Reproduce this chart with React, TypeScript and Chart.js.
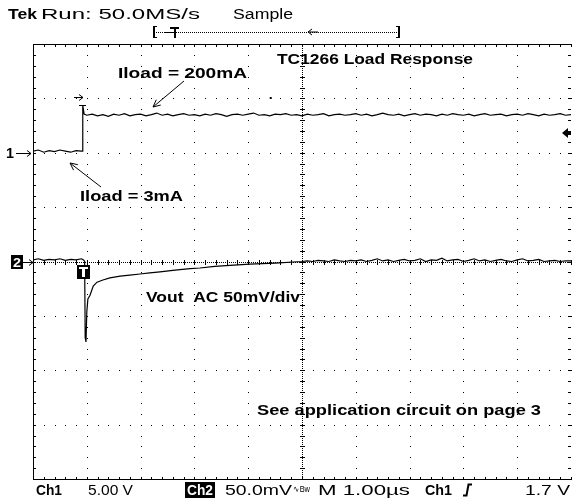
import React, { useEffect, useRef } from "react";
import { Chart, registerables } from "chart.js";

Chart.register(...registerables);

// time axis in divisions (1 div = 1.00 µs), vertical in divisions
const ch1Time = [
  0, 0.1, 0.2, 0.3, 0.4, 0.5, 0.6, 0.7, 0.8, 0.9, 0.92, 0.925, 0.95,
  1.0, 1.1, 1.2, 1.3, 1.4, 1.5, 1.6, 1.7, 1.8, 1.9, 2.0, 2.1, 2.2, 2.3, 2.4, 2.5, 2.6, 2.7, 2.8, 2.9,
  3.0, 3.1, 3.2, 3.3, 3.4, 3.5, 3.6, 3.7, 3.8, 3.9, 4.0, 4.1, 4.2, 4.3, 4.4, 4.5, 4.6, 4.7, 4.8, 4.9,
  5.0, 5.1, 5.2, 5.3, 5.4, 5.5, 5.6, 5.7, 5.8, 5.9, 6.0, 6.1, 6.2, 6.3, 6.4, 6.5, 6.6, 6.7, 6.8, 6.9,
  7.0, 7.1, 7.2, 7.3, 7.4, 7.5, 7.6, 7.7, 7.8, 7.9, 8.0, 8.1, 8.2, 8.3, 8.4, 8.5, 8.6, 8.7, 8.8, 8.9,
  9.0, 9.1, 9.2, 9.3, 9.4, 9.5, 9.6, 9.7, 9.8, 9.9, 10.0,
];
const ch1Values = [
  2.03, 2.05, 2.01, 2.04, 2.02, 2.05, 2.03, 2.01, 2.04, 2.03, 2.03, 2.87, 2.71,
  2.69, 2.71, 2.68, 2.70, 2.67, 2.71, 2.69, 2.72, 2.68, 2.70,
  2.71, 2.68, 2.70, 2.73, 2.69, 2.71, 2.68, 2.70, 2.72, 2.69,
  2.70, 2.68, 2.71, 2.69, 2.72, 2.70, 2.67, 2.70, 2.71, 2.69,
  2.71, 2.73, 2.69, 2.70, 2.68, 2.71, 2.70, 2.72, 2.69, 2.70,
  2.68, 2.71, 2.69, 2.70, 2.72, 2.68, 2.70, 2.71, 2.69, 2.70,
  2.72, 2.69, 2.71, 2.68, 2.70, 2.73, 2.70, 2.69, 2.71, 2.68,
  2.70, 2.72, 2.69, 2.71, 2.70, 2.68, 2.71, 2.69, 2.72, 2.70,
  2.69, 2.71, 2.68, 2.70, 2.72, 2.69, 2.70, 2.71, 2.68, 2.70,
  2.71, 2.69, 2.72, 2.70, 2.68, 2.71, 2.69, 2.70, 2.72, 2.69,
  2.70,
];

const ch2Time = [
  0, 0.1, 0.2, 0.3, 0.4, 0.5, 0.6, 0.7, 0.8, 0.9, 0.94, 0.96, 0.97, 0.985,
  1.0, 1.02, 1.06, 1.12, 1.19, 1.30, 1.43, 1.62, 1.80, 1.99, 2.17, 2.36, 2.64, 2.92,
  3.10, 3.38, 3.66, 4.03, 4.50,
  5.0, 5.1, 5.2, 5.3, 5.4, 5.5, 5.6, 5.7, 5.8, 5.9, 6.0, 6.1, 6.2, 6.3, 6.4, 6.5, 6.6, 6.7, 6.8, 6.9,
  7.0, 7.1, 7.2, 7.3, 7.4, 7.5, 7.6, 7.7, 7.8, 7.9, 8.0, 8.1, 8.2, 8.3, 8.4, 8.5, 8.6, 8.7, 8.8, 8.9,
  9.0, 9.1, 9.2, 9.3, 9.4, 9.5, 9.6, 9.7, 9.8, 9.9, 10.0,
];
const ch2Values = [
  0.03, 0.05, 0.02, 0.04, 0.03, 0.05, 0.02, 0.04, 0.03, 0.05, 0.03, 0.0, -1.40, -1.48,
  -0.93, -0.69, -0.62, -0.45, -0.38, -0.34, -0.30, -0.27, -0.25, -0.23, -0.21, -0.19, -0.16, -0.13,
  -0.12, -0.09, -0.07, -0.05, -0.03,
  0.0, 0.01, 0.0, 0.02, 0.01, 0.0, 0.03, 0.01, 0.0, 0.02,
  0.01, 0.03, 0.0, 0.02, 0.05, 0.01, 0.03, 0.0, 0.02, 0.04,
  0.01, 0.02, 0.05, 0.0, 0.03, 0.02, 0.06, 0.01, 0.03, 0.04,
  0.0, 0.02, 0.05, 0.01, 0.03, 0.0, 0.02, 0.04, 0.01, 0.0,
  0.03, 0.05, 0.01, 0.02, 0.04, 0.0, 0.01, 0.02, 0.0, 0.01,
  0.01,
];

const TRIGGER_TIME = 0.92;
const CH1_GROUND = 2;
const CH2_GROUND = 0;

const headerBrand = "Tek";
const headerRun = "Run: 50.0MS/s";
const headerMode = "Sample";
const titleText = "TC1266 Load Response";
const labelHigh = "Iload = 200mA";
const labelLow = "Iload = 3mA";
const labelVout = "Vout  AC 50mV/div";
const labelNote = "See application circuit on page 3";
const footCh1 = "Ch1";
const footCh1Scale = "5.00 V";
const footCh2 = "Ch2";
const footCh2Scale = "50.0mV";
const footBw = "\u223FBw";
const footTime = "M 1.00\u00B5s";
const footTrigSrc = "Ch1";
const footTrigLevel = "1.7 V";

const FONT = '"Liberation Sans", Arial, sans-serif';

function fitText(ctx: CanvasRenderingContext2D, text: string, x: number, y: number, w: number, font: string) {
  ctx.save();
  ctx.font = font;
  const m = ctx.measureText(text).width;
  ctx.translate(x, y);
  ctx.scale(w / m, 1);
  ctx.fillText(text, 0, 0);
  ctx.restore();
}

function arrowLine(ctx: CanvasRenderingContext2D, x1: number, y1: number, x2: number, y2: number) {
  ctx.beginPath();
  ctx.moveTo(x1, y1);
  ctx.lineTo(x2, y2);
  const a = Math.atan2(y2 - y1, x2 - x1);
  const L = 8;
  ctx.moveTo(x2, y2);
  ctx.lineTo(x2 - L * Math.cos(a - 0.45), y2 - L * Math.sin(a - 0.45));
  ctx.moveTo(x2, y2);
  ctx.lineTo(x2 - L * Math.cos(a + 0.45), y2 - L * Math.sin(a + 0.45));
  ctx.stroke();
}

const scopePlugin = {
  id: "scope",
  beforeDatasetsDraw(chart: any) {
    const ctx: CanvasRenderingContext2D = chart.ctx;
    const xs = chart.scales.x;
    const ys = chart.scales.y;
    const sx = (v: number) => Math.round(xs.getPixelForValue(v));
    const sy = (v: number) => Math.round(ys.getPixelForValue(v));
    const { left, right, top, bottom } = chart.chartArea;
    ctx.save();
    ctx.fillStyle = "#000";
    // dotted graticule
    for (let i = 1; i <= 10; i++) {
      if (i === 5) continue;
      const px = i === 10 ? Math.round(right) - 1 : sx(i);
      for (let j = 0; j <= 40; j++) ctx.fillRect(px, sy(-4 + j * 0.2), 1, 1);
    }
    for (let k = -3; k <= 3; k++) {
      if (k === 0) continue;
      const py = sy(k);
      for (let j = 0; j <= 50; j++) ctx.fillRect(sx(j * 0.2), py, 1, 1);
    }
    // center cross with minor ticks
    const cx = sx(5);
    const cy = sy(0);
    for (let y = Math.round(top); y < bottom; y += 2) ctx.fillRect(cx, y, 1, 1);
    for (let x = Math.round(left); x < right; x += 2) ctx.fillRect(x, cy, 1, 1);
    for (let j = 0; j <= 40; j++) ctx.fillRect(cx - 2, sy(-4 + j * 0.2), 5, 1);
    for (let j = 0; j <= 50; j++) ctx.fillRect(sx(j * 0.2), cy - 2, 1, 5);
    // border
    const L = Math.round(left);
    const T = Math.round(top);
    const B = Math.round(bottom);
    const R = Math.round(right);
    ctx.fillRect(L, T, R - L, 1);
    ctx.fillRect(L, B, R - L, 1);
    ctx.fillRect(L, T, 1, B - T + 1);
    for (let j = 0; j <= 50; j++) {
      const px = sx(j * 0.2);
      ctx.fillRect(px, T, 1, 3);
      ctx.fillRect(px, B - 2, 1, 3);
    }
    for (let j = 0; j <= 40; j++) {
      const py = sy(-4 + j * 0.2);
      ctx.fillRect(L, py, 3, 1);
      ctx.fillRect(R - 3, py, 3, 1);
    }
    ctx.restore();
  },
  afterDatasetsDraw(chart: any) {
    const ctx: CanvasRenderingContext2D = chart.ctx;
    const xs = chart.scales.x;
    const ys = chart.scales.y;
    const sx = (v: number) => Math.round(xs.getPixelForValue(v));
    const sy = (v: number) => Math.round(ys.getPixelForValue(v));
    const { left, right, bottom } = chart.chartArea;
    ctx.save();
    ctx.fillStyle = "#000";
    ctx.strokeStyle = "#000";
    ctx.lineWidth = 1;
    ctx.textBaseline = "alphabetic";

    // header
    fitText(ctx, headerBrand, 8, 19, 29, `bold 14px ${FONT}`);
    fitText(ctx, headerRun, 41, 19, 159, `14px ${FONT}`);
    fitText(ctx, headerMode, 233, 19, 60, `14px ${FONT}`);

    // record bracket
    const bl = 153, br = 400, by = 32;
    ctx.fillRect(bl, by - 6, 2, 12);
    ctx.fillRect(bl, by - 6, 4, 1);
    ctx.fillRect(bl, by + 5, 4, 1);
    ctx.fillRect(br - 2, by - 6, 2, 12);
    ctx.fillRect(br - 4, by - 6, 4, 1);
    ctx.fillRect(br - 4, by + 5, 4, 1);
    for (let x = bl + 3; x < br - 3; x += 2) ctx.fillRect(x, by, 1, 1);
    // trigger position marker in bracket
    ctx.fillRect(170, by - 5, 9, 2);
    ctx.fillRect(174, by - 5, 2, 11);
    ctx.fillRect(165, by, 10, 1);
    // small arrow in bracket
    ctx.beginPath();
    ctx.moveTo(308, by);
    ctx.lineTo(318, by);
    ctx.moveTo(308, by);
    ctx.lineTo(312, by - 3);
    ctx.moveTo(308, by);
    ctx.lineTo(312, by + 3);
    ctx.stroke();

    // channel ground markers
    const g1 = sy(CH1_GROUND);
    fitText(ctx, "1", 6, g1 + 5, 8, `bold 14px ${FONT}`);
    ctx.beginPath();
    ctx.moveTo(16, g1 + 0.5);
    ctx.lineTo(31, g1 + 0.5);
    ctx.moveTo(31, g1 + 0.5);
    ctx.lineTo(27, g1 - 2.5);
    ctx.moveTo(31, g1 + 0.5);
    ctx.lineTo(27, g1 + 3.5);
    ctx.stroke();

    const g2 = sy(CH2_GROUND);
    ctx.fillRect(11, g2 - 7, 12, 14);
    ctx.fillStyle = "#fff";
    fitText(ctx, "2", 13, g2 + 5, 8, `bold 13px ${FONT}`);
    ctx.fillStyle = "#000";
    ctx.beginPath();
    ctx.moveTo(23, g2 + 0.5);
    ctx.lineTo(33, g2 + 0.5);
    ctx.moveTo(33, g2 + 0.5);
    ctx.lineTo(29, g2 - 2.5);
    ctx.moveTo(33, g2 + 0.5);
    ctx.lineTo(29, g2 + 3.5);
    ctx.stroke();

    // trigger level marker at right
    const ty = 133;
    ctx.beginPath();
    ctx.moveTo(right - 9, ty);
    ctx.lineTo(right - 3, ty - 5);
    ctx.lineTo(right - 3, ty + 5);
    ctx.closePath();
    ctx.fill();
    ctx.fillRect(right - 4, ty - 1, 4, 3);

    // trigger point markers
    const tx = sx(TRIGGER_TIME);
    ctx.beginPath();
    ctx.moveTo(tx - 8, 97.5);
    ctx.lineTo(tx + 1, 97.5);
    ctx.moveTo(tx + 1, 97.5);
    ctx.lineTo(tx - 3, 94.5);
    ctx.moveTo(tx + 1, 97.5);
    ctx.lineTo(tx - 3, 100.5);
    ctx.stroke();
    ctx.fillRect(tx - 3, sy(2.87), 7, 1);
    ctx.fillRect(xs.getPixelForValue(4.4), 97, 2, 2);

    ctx.fillRect(tx - 5, g2 + 3, 13, 14);
    ctx.fillStyle = "#fff";
    ctx.fillRect(tx - 3, g2 + 5, 9, 2);
    ctx.fillRect(tx, g2 + 5, 3, 10);
    ctx.fillStyle = "#000";

    // annotations
    fitText(ctx, titleText, 277, 64, 196, `bold 15px ${FONT}`);
    fitText(ctx, labelHigh, 118, 78, 129, `bold 15px ${FONT}`);
    fitText(ctx, labelLow, 80, 201, 103, `bold 15px ${FONT}`);
    fitText(ctx, labelVout, 146, 302, 154, `bold 15px ${FONT}`);
    fitText(ctx, labelNote, 257, 415, 284, `bold 15px ${FONT}`);
    arrowLine(ctx, 184, 81, 153, 107);
    arrowLine(ctx, 101, 187, 70, 163);

    // footer
    const fy = Math.round(bottom) + 16;
    fitText(ctx, footCh1, 36, fy, 26, `bold 14px ${FONT}`);
    fitText(ctx, footCh1Scale, 88, fy, 45, `14px ${FONT}`);
    ctx.fillRect(185, fy - 13, 30, 16);
    ctx.fillStyle = "#fff";
    fitText(ctx, footCh2, 187, fy, 26, `bold 14px ${FONT}`);
    ctx.fillStyle = "#000";
    fitText(ctx, footCh2Scale, 225, fy, 67, `14px ${FONT}`);
    fitText(ctx, footBw, 293, fy - 3, 17, `9px ${FONT}`);
    fitText(ctx, footTime, 318, fy, 92, `14px ${FONT}`);
    fitText(ctx, footTrigSrc, 425, fy, 27, `bold 14px ${FONT}`);
    // rising edge symbol
    ctx.beginPath();
    ctx.moveTo(463, fy + 0.5);
    ctx.lineTo(466.5, fy + 0.5);
    ctx.lineTo(468.5, fy - 10.5);
    ctx.lineTo(472, fy - 10.5);
    ctx.lineWidth = 2;
    ctx.stroke();
    ctx.lineWidth = 1;
    fitText(ctx, footTrigLevel, 525, fy, 45, `14px ${FONT}`);
    void left;
    ctx.restore();
  },
};

export default function App() {
  const ref = useRef<HTMLCanvasElement | null>(null);
  useEffect(() => {
    if (!ref.current) return;
    const chart = new Chart(ref.current, {
      type: "line",
      data: {
        datasets: [
          {
            label: "Ch1",
            data: ch1Time.map((t, i) => ({ x: t, y: ch1Values[i] })),
            borderColor: "#000",
            borderWidth: 1.2,
            pointRadius: 0,
            tension: 0,
          },
          {
            label: "Ch2",
            data: ch2Time.map((t, i) => ({ x: t, y: ch2Values[i] })),
            borderColor: "#000",
            borderWidth: 1.2,
            pointRadius: 0,
            tension: 0,
          },
        ],
      },
      options: {
        responsive: false,
        animation: false,
        devicePixelRatio: 1,
        layout: { padding: { left: 33, right: 4, top: 44, bottom: 20 } },
        plugins: { legend: { display: false }, tooltip: { enabled: false } },
        scales: {
          x: { type: "linear", min: 0, max: 10, display: false },
          y: { type: "linear", min: -4, max: 4, display: false },
        },
      },
      plugins: [scopePlugin],
    });
    return () => chart.destroy();
  }, []);
  return (
    <div style={{ position: "absolute", left: 0, top: 0, width: 575, height: 499, background: "#fff" }}>
      <canvas ref={ref} width={575} height={499} />
    </div>
  );
}
